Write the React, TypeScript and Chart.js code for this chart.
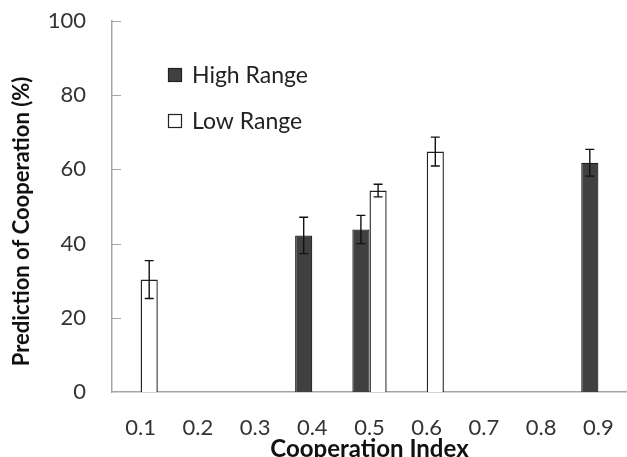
import React, { useEffect, useRef } from "react";
import { Chart, registerables } from "chart.js";

Chart.register(...registerables);

const categories = ["0.1", "0.2", "0.3", "0.4", "0.5", "0.6", "0.7", "0.8", "0.9"];
const highRange = [null, null, null, 42.2, 43.8, null, null, null, 61.8];
const highErr = [null, null, null, 4.9, 3.8, null, null, null, 3.6];
const lowRange = [30.3, null, null, null, 54.3, 64.8, null, null, null];
const lowErr = [5.1, null, null, null, 1.7, 3.9, null, null, null];
const yTicks = [0, 20, 40, 60, 80, 100];
const seriesNames = ["High Range", "Low Range"];
const yTitle = "Prediction of Cooperation (%)";
const xTitle = "Cooperation Index";

const FONT = "Lato, 'Open Sans', sans-serif";

const errorBarPlugin = {
  id: "errorBars",
  afterDatasetsDraw(chart: any) {
    const ctx = chart.ctx;
    const y = chart.scales.y;
    const errs = [highErr, lowErr];
    ctx.save();
    ctx.strokeStyle = "#111";
    ctx.lineWidth = 1.4;
    chart.data.datasets.forEach((ds: any, di: number) => {
      const meta = chart.getDatasetMeta(di);
      meta.data.forEach((bar: any, i: number) => {
        const v = ds.data[i];
        const e = errs[di][i];
        if (v == null || e == null) return;
        const x = bar.x;
        const yt = y.getPixelForValue(v + e);
        const yb = y.getPixelForValue(v - e);
        ctx.beginPath();
        ctx.moveTo(x, yt);
        ctx.lineTo(x, yb);
        ctx.moveTo(x - 4.5, yt);
        ctx.lineTo(x + 4.5, yt);
        ctx.moveTo(x - 4.5, yb);
        ctx.lineTo(x + 4.5, yb);
        ctx.stroke();
      });
    });
    ctx.restore();
  },
};

const innerTicksPlugin = {
  id: "innerTicks",
  afterDraw(chart: any) {
    const ctx = chart.ctx;
    const y = chart.scales.y;
    const left = chart.chartArea.left;
    ctx.save();
    ctx.strokeStyle = "#a6a6a6";
    ctx.lineWidth = 1;
    yTicks.forEach((t) => {
      if (t === 0) return;
      const py = Math.round(y.getPixelForValue(t)) + 0.5;
      ctx.beginPath();
      ctx.moveTo(left, py);
      ctx.lineTo(left + 9, py);
      ctx.stroke();
    });
    ctx.restore();
  },
};

const yTitlePlugin = {
  id: "yTitle",
  afterDraw(chart: any) {
    const ctx = chart.ctx;
    const area = chart.chartArea;
    ctx.save();
    ctx.translate(22, (area.top + area.bottom) / 2 + 15);
    ctx.rotate(-Math.PI / 2);
    ctx.font = `bold 22px ${FONT}`;
    ctx.fillStyle = "#111";
    ctx.textAlign = "center";
    ctx.textBaseline = "middle";
    ctx.fillText(yTitle, 0, 0);
    ctx.restore();
  },
};

const legendPlugin = {
  id: "customLegend",
  afterDraw(chart: any) {
    const ctx = chart.ctx;
    const area = chart.chartArea;
    const x0 = area.left + 56;
    const rows = [area.top + 54, area.top + 100];
    ctx.save();
    ctx.font = `23px ${FONT}`;
    ctx.textBaseline = "middle";
    ctx.textAlign = "left";
    seriesNames.forEach((name, i) => {
      const ds = chart.data.datasets[i];
      const cy = rows[i];
      ctx.fillStyle = ds.backgroundColor;
      ctx.fillRect(x0, cy - 7, 14, 14);
      ctx.strokeStyle = "#222";
      ctx.lineWidth = 1.2;
      ctx.strokeRect(x0 + 0.5, cy - 6.5, 13, 13);
      ctx.fillStyle = "#222";
      ctx.fillText(name, x0 + 24, cy + 1);
    });
    ctx.restore();
  },
};

export default function App() {
  const ref = useRef<HTMLCanvasElement | null>(null);

  useEffect(() => {
    document.body.style.margin = "0";
    const canvas = ref.current;
    if (!canvas) return;
    const chart = new Chart(canvas, {
      type: "bar",
      data: {
        labels: categories,
        datasets: [
          {
            label: seriesNames[0],
            data: highRange as any,
            backgroundColor: "#404040",
            borderColor: "#1e1e1e",
            borderWidth: 1.2,
          },
          {
            label: seriesNames[1],
            data: lowRange as any,
            backgroundColor: "#ffffff",
            borderColor: "#222222",
            borderWidth: 1.4,
          },
        ],
      },
      options: {
        animation: false,
        responsive: false,
        devicePixelRatio: 1,
        layout: { padding: { top: 21, right: 0, left: 0, bottom: 0 } },
        datasets: { bar: { categoryPercentage: 0.6, barPercentage: 1.0 } },
        plugins: { legend: { display: false }, tooltip: { enabled: false } },
        scales: {
          x: {
            grid: { display: false, drawTicks: false },
            border: { display: true, color: "#a6a6a6", width: 1.5 },
            ticks: { padding: 23, color: "#333", font: { family: FONT, size: 22 } },
            title: {
              display: true,
              text: xTitle,
              color: "#111",
              font: { family: FONT, size: 24, weight: "bold" },
              padding: { top: 0, bottom: -7 },
            },
            afterFit(scale: any) {
              scale.height = 65;
              scale.paddingLeft = 0;
              scale.paddingRight = 0;
            },
          },
          y: {
            min: 0,
            max: 100,
            afterBuildTicks(scale: any) {
              scale.ticks = yTicks.map((v) => ({ value: v }));
            },
            grid: { display: false, drawTicks: false },
            border: { display: true, color: "#a6a6a6", width: 1.5 },
            ticks: { padding: 26, color: "#333", font: { family: FONT, size: 22 } },
            afterFit(scale: any) {
              scale.width = 112;
              scale.paddingTop = 0;
              scale.paddingBottom = 0;
            },
          },
        },
      },
      plugins: [errorBarPlugin, innerTicksPlugin, yTitlePlugin, legendPlugin],
    });
    return () => chart.destroy();
  }, []);

  return (
    <div style={{ position: "absolute", left: 0, top: 0, width: 627, height: 457 }}>
      <canvas ref={ref} width={627} height={457} style={{ width: 627, height: 457 }} />
    </div>
  );
}
